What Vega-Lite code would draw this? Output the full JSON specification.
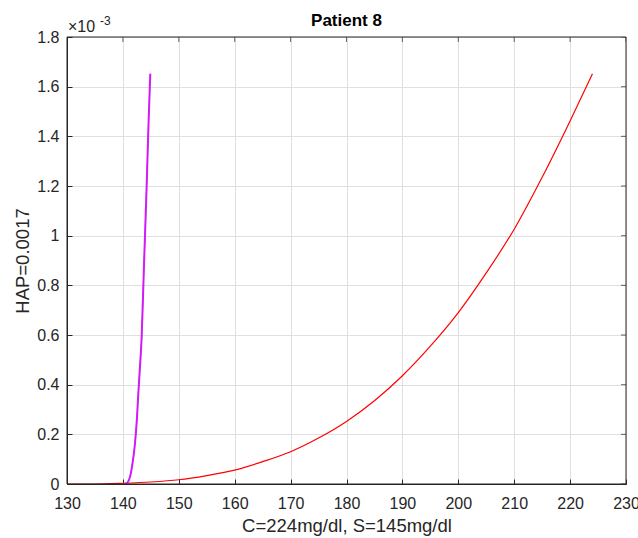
{
  "$schema": "https://vega.github.io/schema/vega-lite/v6.json",
  "autosize": "none",
  "width": 559,
  "height": 447,
  "padding": {"left": 67, "top": 37, "right": 12, "bottom": 54},
  "background": "white",
  "title": {"text": "Patient 8", "fontSize": 17, "fontWeight": "bold", "font": "Liberation Sans", "color": "#000000", "offset": -15, "anchor": "middle"},
  "config": {
    "view": {"stroke": "#262626", "strokeWidth": 1},
    "axis": {
      "labelFont": "Liberation Sans", "labelFontSize": 16, "labelColor": "#262626",
      "titleFont": "Liberation Sans", "titleFontSize": 18.5, "titleFontWeight": "normal", "titleColor": "#262626",
      "domainColor": "#262626", "tickColor": "#262626", "gridColor": "#dfdfdf", "gridOpacity": 1,
      "tickSize": -5, "domainWidth": 1, "tickWidth": 1
    }
  },
  "datasets": {
    "curves": [
      {"series": "C", "glucose": 130, "hap": 0},
      {"series": "C", "glucose": 135, "hap": 0},
      {"series": "C", "glucose": 140, "hap": 0.000003},
      {"series": "C", "glucose": 145, "hap": 0.000008},
      {"series": "C", "glucose": 150, "hap": 0.000017},
      {"series": "C", "glucose": 155, "hap": 0.000034},
      {"series": "C", "glucose": 160, "hap": 0.000056},
      {"series": "C", "glucose": 165, "hap": 0.00009},
      {"series": "C", "glucose": 170, "hap": 0.00013},
      {"series": "C", "glucose": 175, "hap": 0.000185},
      {"series": "C", "glucose": 180, "hap": 0.000252},
      {"series": "C", "glucose": 185, "hap": 0.000335},
      {"series": "C", "glucose": 190, "hap": 0.000436},
      {"series": "C", "glucose": 195, "hap": 0.000555},
      {"series": "C", "glucose": 200, "hap": 0.00069},
      {"series": "C", "glucose": 205, "hap": 0.00085},
      {"series": "C", "glucose": 210, "hap": 0.001026},
      {"series": "C", "glucose": 215, "hap": 0.001235},
      {"series": "C", "glucose": 220, "hap": 0.001462},
      {"series": "C", "glucose": 224, "hap": 0.001652},
      {"series": "S", "glucose": 140.4, "hap": 0},
      {"series": "S", "glucose": 140.8, "hap": 0.000005},
      {"series": "S", "glucose": 141.25, "hap": 0.000027},
      {"series": "S", "glucose": 141.7, "hap": 0.00008},
      {"series": "S", "glucose": 142.15, "hap": 0.000161},
      {"series": "S", "glucose": 142.5, "hap": 0.00026},
      {"series": "S", "glucose": 142.75, "hap": 0.000362},
      {"series": "S", "glucose": 143.05, "hap": 0.00047},
      {"series": "S", "glucose": 143.35, "hap": 0.00059},
      {"series": "S", "glucose": 143.8, "hap": 0.000899},
      {"series": "S", "glucose": 144.24, "hap": 0.001194},
      {"series": "S", "glucose": 144.6, "hap": 0.001462},
      {"series": "S", "glucose": 144.9, "hap": 0.001652}
    ],
    "exponent": [{"glucose": 130, "hap": 0.0018}],
    "xticks": [{"glucose": 130}, {"glucose": 140}, {"glucose": 150}, {"glucose": 160}, {"glucose": 170}, {"glucose": 180}, {"glucose": 190}, {"glucose": 200}, {"glucose": 210}, {"glucose": 220}, {"glucose": 230}],
    "yticks": [{"hap": 0}, {"hap": 0.0002}, {"hap": 0.0004}, {"hap": 0.0006}, {"hap": 0.0008}, {"hap": 0.001}, {"hap": 0.0012}, {"hap": 0.0014}, {"hap": 0.0016}, {"hap": 0.0018}]
  },
  "layer": [
    {
      "data": {"name": "curves"},
      "transform": [{"filter": "datum.series === 'C'"}],
      "mark": {"type": "line", "color": "#ff0000", "strokeWidth": 1.2, "interpolate": "monotone", "clip": true},
      "encoding": {
        "x": {"field": "glucose", "type": "quantitative", "scale": {"domain": [130, 230], "nice": false, "zero": false},
          "axis": {"orient": "bottom", "values": [130,140,150,160,170,180,190,200,210,220,230], "title": "C=224mg/dl, S=145mg/dl", "grid": true, "labelPadding": 16, "titlePadding": 5, "labelFlush": false}},
        "y": {"field": "hap", "type": "quantitative", "scale": {"domain": [0, 0.0018], "nice": false},
          "axis": {"orient": "left", "values": [0,0.0002,0.0004,0.0006,0.0008,0.001,0.0012,0.0014,0.0016,0.0018], "labelExpr": "format(datum.value*1000, '~g')", "title": "HAP=0.0017", "grid": true, "labelPadding": 13, "titlePadding": 4, "labelFlush": false}}
      }
    },
    {
      "data": {"name": "curves"},
      "transform": [{"filter": "datum.series === 'S'"}],
      "mark": {"type": "line", "color": "#a63cf2", "strokeWidth": 2, "interpolate": "monotone", "clip": true},
      "encoding": {
        "x": {"field": "glucose", "type": "quantitative"},
        "y": {"field": "hap", "type": "quantitative"}
      }
    },
    {
      "data": {"name": "curves"},
      "transform": [{"filter": "datum.series === 'S'"}],
      "mark": {"type": "line", "color": "#ff00ff", "strokeWidth": 1, "interpolate": "monotone", "clip": true},
      "encoding": {
        "x": {"field": "glucose", "type": "quantitative"},
        "y": {"field": "hap", "type": "quantitative"}
      }
    },
    {
      "data": {"name": "exponent"},
      "mark": {"type": "rect", "fill": null, "stroke": "#262626", "strokeWidth": 1},
      "encoding": {
        "x": {"datum": 130, "type": "quantitative"},
        "x2": {"datum": 230},
        "y": {"datum": 0, "type": "quantitative"},
        "y2": {"datum": 0.0018}
      }
    },
    {
      "data": {"name": "xticks"},
      "mark": {"type": "tick", "orient": "vertical", "color": "#262626", "size": 10, "thickness": 1, "clip": true},
      "encoding": {
        "x": {"field": "glucose", "type": "quantitative"},
        "y": {"datum": 0.0018, "type": "quantitative"}
      }
    },
    {
      "data": {"name": "yticks"},
      "mark": {"type": "tick", "orient": "horizontal", "color": "#262626", "size": 10, "thickness": 1, "clip": true},
      "encoding": {
        "y": {"field": "hap", "type": "quantitative"},
        "x": {"datum": 230, "type": "quantitative"}
      }
    },
    {
      "data": {"name": "exponent"},
      "mark": {"type": "text", "text": "×10", "font": "Liberation Sans", "fontSize": 16, "color": "#262626", "align": "left", "baseline": "alphabetic", "dx": 1, "dy": -5},
      "encoding": {
        "x": {"field": "glucose", "type": "quantitative"},
        "y": {"field": "hap", "type": "quantitative"}
      }
    },
    {
      "data": {"name": "exponent"},
      "mark": {"type": "text", "text": "-3", "font": "Liberation Sans", "fontSize": 12, "color": "#262626", "align": "left", "baseline": "alphabetic", "dx": 33, "dy": -12},
      "encoding": {
        "x": {"field": "glucose", "type": "quantitative"},
        "y": {"field": "hap", "type": "quantitative"}
      }
    }
  ]
}
